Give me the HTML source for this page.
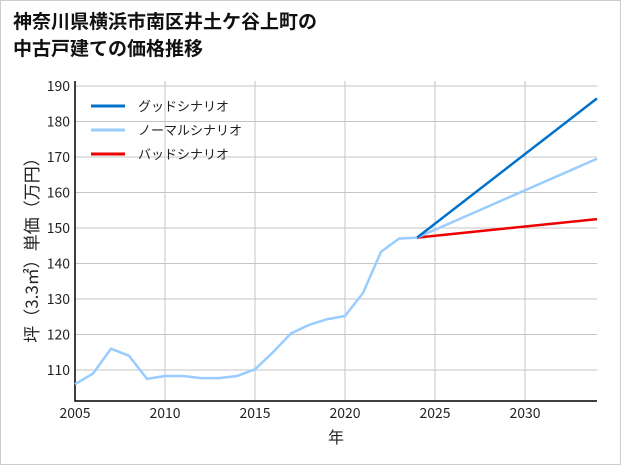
<!DOCTYPE html>
<html><head><meta charset="utf-8"><style>
body{margin:0;background:#fff}
#wrap{position:relative;width:619px;height:463px;border:1px solid #ccc;background:#fff;font-family:"Noto Sans CJK JP","Liberation Sans",sans-serif}
#title{position:absolute;left:12px;top:6px;font-size:19px;font-weight:bold;line-height:27px;color:#111}
svg{position:absolute;left:0;top:0}
</style></head><body>
<div id="wrap">
<div id="title">神奈川県横浜市南区井土ケ谷上町の<br>中古戸建ての価格推移</div>
<svg id="chart" width="621" height="465"></svg>
</div>
<script>
const years=[2005,2006,2007,2008,2009,2010,2011,2012,2013,2014,2015,2016,2017,2018,2019,2020,2021,2022,2023,2024];
const prices=[106,109,116,114,107.5,108.3,108.3,107.7,107.7,108.3,110.2,115,120.3,122.7,124.3,125.2,131.7,143.3,147,147.3];
const projYears=[2024,2034];
const goodVals=[147.3,186.5];
const normalVals=[147.3,169.5];
const badVals=[147.3,152.5];
const xTicks=[2005,2010,2015,2020,2025,2030];
const yTicks=[110,120,130,140,150,160,170,180,190];
const legendNames=["グッドシナリオ","ノーマルシナリオ","バッドシナリオ"];
const legendColors=["#0072cc","#99ccff","#ee0000"];

const L=74,R=596,T=80,B=400;
const X=y=>L+(y-2005)*18;
const Y=v=>369-(v-110)*3.55;
const svg=document.getElementById('chart');
const NS='http://www.w3.org/2000/svg';
function mk(tag,attrs,parent){const e=document.createElementNS(NS,tag);for(const k in attrs)e.setAttribute(k,attrs[k]);(parent||svg).appendChild(e);return e;}

xTicks.forEach(t=>{
  const g=mk('line',{x1:X(t),x2:X(t),y1:T,y2:B,stroke:'#c4c4c4','stroke-width':1});
  
  
  const tx=mk('text',{x:X(t),y:B+17,'text-anchor':'middle','font-size':14,fill:'#222'});
  tx.textContent=t;
  
  
});
yTicks.forEach(t=>{
  const g=mk('line',{x1:L,x2:R,y1:Y(t),y2:Y(t),stroke:'#c4c4c4','stroke-width':1});
  
  
  const tx=mk('text',{x:L-5,y:Y(t)+5,'text-anchor':'end','font-size':14,fill:'#222'});
  tx.textContent=t;
  
  
});
const ax=mk('path',{d:`M${L},${T}V${B}H${R}`,fill:'none',stroke:'#000','stroke-width':1.5});



function line(xs,vs,color,name){
  const p=mk('polyline',{points:xs.map((x,i)=>X(x)+','+Y(vs[i])).join(' '),fill:'none',stroke:color,'stroke-width':2.5});
  
  
}
line(projYears,badVals,legendColors[2],'bad-scenario-line');
line(projYears,normalVals,legendColors[1],'normal-scenario-line');
line(projYears,goodVals,legendColors[0],'good-scenario-line');
line(years,prices,legendColors[1],'historical-price-line');

legendNames.forEach((n,i)=>{
  const y=105+i*24;
  const l=mk('line',{x1:90,x2:124,y1:y,y2:y,stroke:legendColors[i],'stroke-width':3});
  
  
  const t=mk('text',{x:137,y:y+5,'font-size':13,fill:'#222'});
  t.textContent=n;
  
  
});
const xt=mk('text',{x:335,y:442,'text-anchor':'middle','font-size':16,fill:'#222'});
xt.textContent='年';


const yt=mk('text',{x:0,y:0,'text-anchor':'middle','font-size':17,fill:'#222',transform:'translate(37,245) rotate(-90)'});
yt.textContent='坪（3.3㎡）単価（万円）';


</script>
</body></html>
